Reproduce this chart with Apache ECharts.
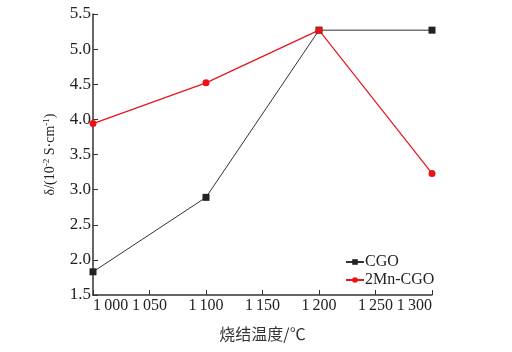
<!DOCTYPE html>
<html>
<head>
<meta charset="utf-8">
<script src="https://cdn.jsdelivr.net/npm/echarts@6/dist/echarts.min.js"></script>
<style>
    html, body { margin: 0; padding: 0; background: #fff; }
    #chart { width: 512px; height: 352px; }
</style>
</head>
<body>
<div id="chart"></div>
<script>
// sintering temperature (°C)
let temps = [1000, 1100, 1200, 1300];
let cgoValues = [1.83, 2.89, 5.27, 5.27];
let mnCgoValues = [3.94, 4.52, 5.27, 3.23];
let seriesNames = ['CGO', '2Mn-CGO'];

let serif = '"Liberation Serif", "DejaVu Serif", serif';

function pairs(xs, ys) {
    let out = [];
    for (let i in xs) {
        out.push([xs[i], ys[i]]);
    }
    return out;
}

function thousands(v) {
    let s = String(v);
    if (s.length > 3) {
        return s.slice(0, s.length - 3) + '\u2009' + s.slice(s.length - 3);
    }
    return s;
}

let myChart = echarts.init(document.getElementById('chart'));
let option = {
    animation: false,
    grid: { left: 93, right: 80, top: 14, bottom: 57 },
    legend: {
        orient: 'vertical',
        left: 340,
        top: 249,
        itemWidth: 18,
        itemHeight: 7,
        itemGap: 2,
        textStyle: { fontFamily: serif, fontSize: 16, color: '#222', padding: [0, 0, 0, -4] },
        data: seriesNames
    },
    xAxis: {
        type: 'value',
        min: 1000,
        max: 1300,
        interval: 50,
        name: '烧结温度/℃',
        nameLocation: 'middle',
        nameGap: 31,
        nameTextStyle: { fontFamily: '"Noto Sans CJK SC", sans-serif', fontSize: 16, color: '#333' },
        axisLine: { lineStyle: { color: '#333', width: 1.5 } },
        axisTick: { inside: true, length: 5, lineStyle: { color: '#333' } },
        axisLabel: {
            fontFamily: serif, fontSize: 16, color: '#222', margin: 3, formatter: thousands,
            alignMinLabel: 'left', alignMaxLabel: 'right'
        },
        splitLine: { show: false }
    },
    yAxis: {
        type: 'value',
        min: 1.5,
        max: 5.5,
        interval: 0.5,
        name: '{a|δ/(10}{s|-2}{a| S·cm}{s|-1}{a|)}',
        nameLocation: 'middle',
        nameGap: 35,
        nameTextStyle: {
            rich: {
                a: { fontFamily: serif, fontSize: 14, color: '#222' },
                s: { fontFamily: serif, fontSize: 9, color: '#222', verticalAlign: 'top', padding: [0, 0, 7, 0] }
            }
        },
        axisLine: { show: true, lineStyle: { color: '#333', width: 1.5 } },
        axisTick: { show: true, inside: true, length: 5, lineStyle: { color: '#333' } },
        axisLabel: {
            fontFamily: serif, fontSize: 17, color: '#222', margin: 2,
            formatter: function (v) { return v.toFixed(1); }
        },
        splitLine: { show: false }
    },
    series: [
        {
            name: seriesNames[0],
            type: 'line',
            data: pairs(temps, cgoValues),
            symbol: 'rect',
            symbolSize: 7,
            itemStyle: { color: '#222' },
            lineStyle: { color: '#333', width: 1 }
        },
        {
            name: seriesNames[1],
            type: 'line',
            data: pairs(temps, mnCgoValues),
            symbol: 'circle',
            symbolSize: 7,
            itemStyle: { color: '#ee1111' },
            lineStyle: { color: '#e8141c', width: 1.2 }
        }
    ]
};
myChart.setOption(option);
</script>
</body>
</html>
